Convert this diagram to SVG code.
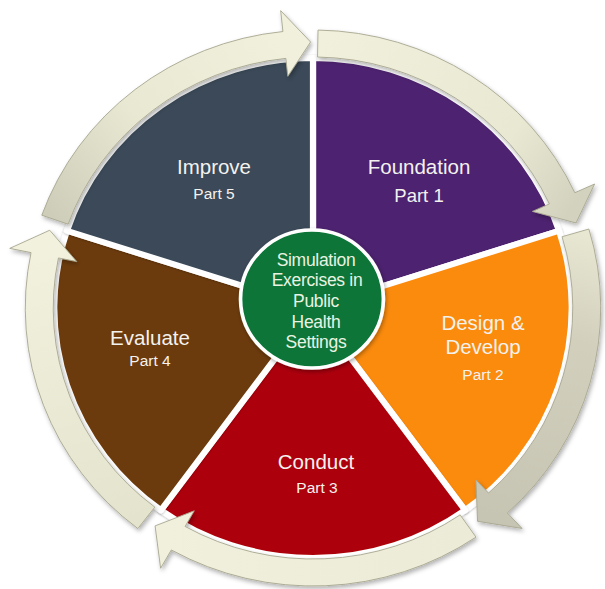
<svg xmlns="http://www.w3.org/2000/svg" width="605" height="589" viewBox="0 0 605 589">
  <style>
    .sector { stroke: #ffffff; stroke-width: 6; stroke-linejoin: round; filter: url(#secShadow); }
    .arrow { stroke: #a9a791; stroke-width: 0.9; stroke-linejoin: round; filter: url(#arrShadow); }
    .title { font-family: "Liberation Sans", Arial, sans-serif; font-size: 20.5px; fill: #f4f2ee; text-anchor: middle; }
    .part { font-family: "Liberation Sans", Arial, sans-serif; font-size: 15.5px; fill: #f4f2ee; text-anchor: middle; }
    .center { font-family: "Liberation Sans", Arial, sans-serif; font-size: 17.5px; fill: #e9f3e2; text-anchor: middle; letter-spacing: -0.3px; }
  </style>
  <defs>
    <filter id="arrShadow" x="-20%" y="-20%" width="140%" height="140%">
      <feDropShadow dx="1.5" dy="2.5" stdDeviation="2" flood-color="#000" flood-opacity="0.3"/>
    </filter>
    <filter id="secShadow" x="-10%" y="-10%" width="120%" height="120%">
      <feDropShadow dx="0" dy="1" stdDeviation="1.2" flood-color="#000" flood-opacity="0.25"/>
    </filter>
    <filter id="cirShadow" x="-20%" y="-20%" width="140%" height="140%">
      <feDropShadow dx="1" dy="2" stdDeviation="2" flood-color="#000" flood-opacity="0.35"/>
    </filter>
    <linearGradient id="g1" gradientUnits="userSpaceOnUse" x1="-250" y1="-90" x2="-30" y2="-265">
      <stop offset="0" stop-color="#cecdb9"/>
      <stop offset="0.45" stop-color="#e9e8d3"/>
      <stop offset="1" stop-color="#f1f0dc"/>
    </linearGradient>
    <linearGradient id="g2" gradientUnits="userSpaceOnUse" x1="5" y1="-265" x2="250" y2="-100">
      <stop offset="0" stop-color="#f1f0dc"/>
      <stop offset="0.7" stop-color="#e9e8d3"/>
      <stop offset="1" stop-color="#d3d2be"/>
    </linearGradient>
    <linearGradient id="g3" gradientUnits="userSpaceOnUse" x1="260" y1="-75" x2="170" y2="210">
      <stop offset="0" stop-color="#e8e7d2"/>
      <stop offset="0.35" stop-color="#d2d0bd"/>
      <stop offset="1" stop-color="#c6c4b2"/>
    </linearGradient>
    <linearGradient id="g4" gradientUnits="userSpaceOnUse" x1="150" y1="220" x2="-150" y2="220">
      <stop offset="0" stop-color="#ecebd7"/>
      <stop offset="1" stop-color="#f1f0dc"/>
    </linearGradient>
    <linearGradient id="g5" gradientUnits="userSpaceOnUse" x1="-160" y1="210" x2="-250" y2="-60">
      <stop offset="0" stop-color="#e4e3ce"/>
      <stop offset="1" stop-color="#f2f1dd"/>
    </linearGradient>
  </defs>

  <rect width="605" height="589" fill="#ffffff"/>

  <g transform="translate(313,308) scale(1.035,1)">
    <g id="node-foundation-shape">
      <path class="sector" fill="#4e2070" d="M0,0 L0,-250 A250,250 0 0 1 237.76,-77.25 Z"/>
    </g>
    <g id="node-design-shape">
      <path class="sector" fill="#fb8b10" d="M0,0 L237.76,-77.25 A250,250 0 0 1 146.95,202.25 Z"/>
    </g>
    <g id="node-conduct-shape">
      <path class="sector" fill="#ad0508" d="M0,0 L146.95,202.25 A250,250 0 0 1 -146.95,202.25 Z"/>
    </g>
    <g id="node-evaluate-shape">
      <path class="sector" fill="#6c3a0c" d="M0,0 L-146.95,202.25 A250,250 0 0 1 -237.76,-77.25 Z"/>
    </g>
    <g id="node-improve-shape">
      <path class="sector" fill="#3b4a58" d="M0,0 L-237.76,-77.25 A250,250 0 0 1 0,-250 Z"/>
    </g>

    <g id="connectors">
      <path class="arrow" fill="url(#g1)" d="M-262.05,-92.80 A278,278 0 0 1 -29.06,-276.48 L-31.25,-297.36 L-2.32,-265.99 L-24.35,-231.72 L-26.24,-249.63 A251,251 0 0 0 -236.60,-83.79 Z"/>
      <path class="arrow" fill="url(#g2)" d="M4.85,-277.96 A278,278 0 0 1 252.97,-115.28 L272.08,-123.99 L254.15,-85.04 L212.02,-96.62 L228.40,-104.09 A251,251 0 0 0 4.38,-250.96 Z"/>
      <path class="arrow" fill="url(#g3)" d="M266.55,-78.96 A278,278 0 0 1 187.81,204.96 L202.00,220.45 L158.97,213.27 L157.41,171.79 L169.57,185.06 A251,251 0 0 0 240.66,-71.29 Z"/>
      <path class="arrow" fill="url(#g4)" d="M157.46,229.11 A278,278 0 0 1 -136.89,241.96 L-147.23,260.24 L-152.57,217.89 L-114.73,202.79 L-123.60,218.46 A251,251 0 0 0 142.17,206.86 Z"/>
      <path class="arrow" fill="url(#g5)" d="M-169.24,220.55 A278,278 0 0 1 -272.42,-55.42 L-293.00,-59.61 L-254.38,-77.77 L-228.32,-46.45 L-245.96,-50.04 A251,251 0 0 0 -152.80,199.13 Z"/>
    </g>

    <g id="node-center-shape">
      <circle cx="-1" cy="-9" r="69" fill="#097537" stroke="#ffffff" stroke-width="3.5" filter="url(#cirShadow)"/>
    </g>
  </g>

  <g id="node-improve">
    <text class="title" x="214" y="174">Improve</text>
    <text class="part" x="214" y="199">Part 5</text>
  </g>
  <g id="node-foundation">
    <text class="title" x="419" y="174">Foundation</text>
    <text class="part" x="419" y="202" style="font-size:18.5px">Part 1</text>
  </g>
  <g id="node-design">
    <text class="title" x="483" y="330">Design &amp;</text>
    <text class="title" x="483" y="354">Develop</text>
    <text class="part" x="483" y="380">Part 2</text>
  </g>
  <g id="node-conduct">
    <text class="title" x="316" y="469">Conduct</text>
    <text class="part" x="317" y="493">Part 3</text>
  </g>
  <g id="node-evaluate">
    <text class="title" x="150" y="345">Evaluate</text>
    <text class="part" x="150" y="366">Part 4</text>
  </g>
  <g id="node-center">
    <text class="center" x="316" y="266">Simulation</text>
    <text class="center" x="317" y="286">Exercises in</text>
    <text class="center" x="316" y="307">Public</text>
    <text class="center" x="316" y="328">Health</text>
    <text class="center" x="316" y="348">Settings</text>
  </g>
</svg>
